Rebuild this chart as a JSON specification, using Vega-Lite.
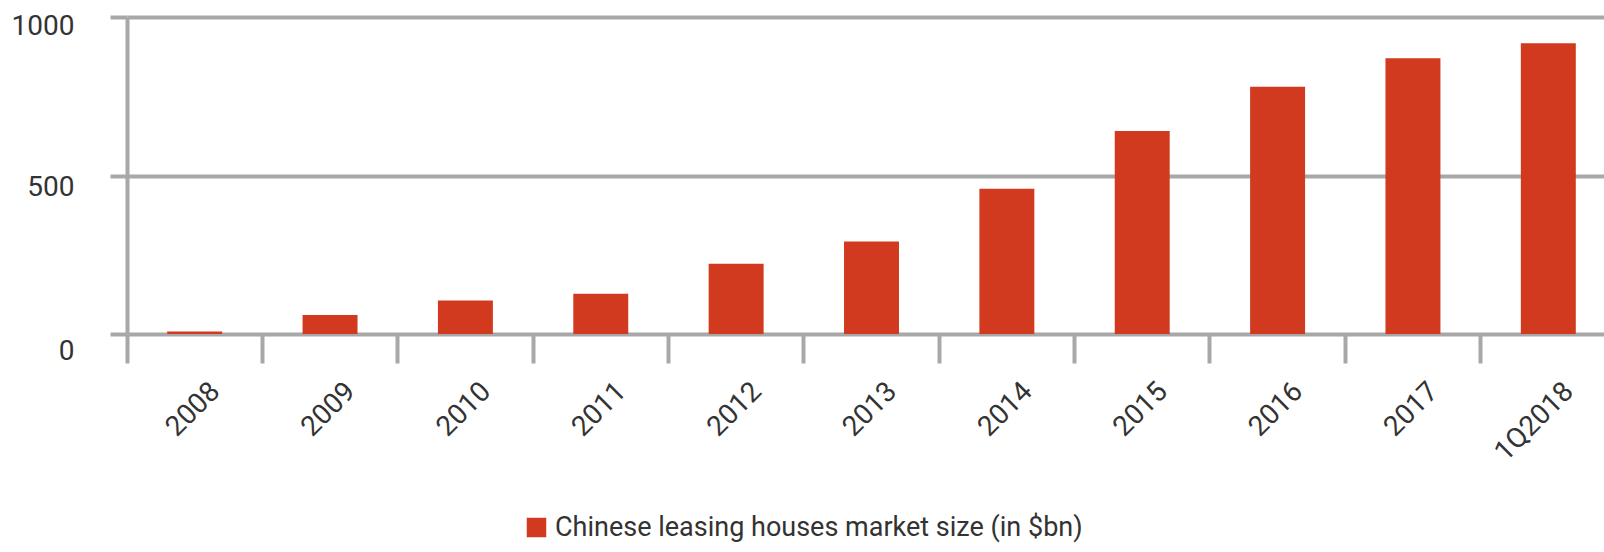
{
  "$schema": "https://vega.github.io/schema/vega-lite/v6.json",
  "width": 1477,
  "height": 317,
  "autosize": {"type": "none"},
  "padding": {"left": 127, "top": 17, "right": 0, "bottom": 218},
  "background": "#ffffff",
  "data": {
    "values": [
      {"period": "2008", "size": 8, "series": "Chinese leasing houses market size (in $bn)"},
      {"period": "2009", "size": 60, "series": "Chinese leasing houses market size (in $bn)"},
      {"period": "2010", "size": 106, "series": "Chinese leasing houses market size (in $bn)"},
      {"period": "2011", "size": 127, "series": "Chinese leasing houses market size (in $bn)"},
      {"period": "2012", "size": 222, "series": "Chinese leasing houses market size (in $bn)"},
      {"period": "2013", "size": 292, "series": "Chinese leasing houses market size (in $bn)"},
      {"period": "2014", "size": 458, "series": "Chinese leasing houses market size (in $bn)"},
      {"period": "2015", "size": 640, "series": "Chinese leasing houses market size (in $bn)"},
      {"period": "2016", "size": 780, "series": "Chinese leasing houses market size (in $bn)"},
      {"period": "2017", "size": 870, "series": "Chinese leasing houses market size (in $bn)"},
      {"period": "1Q2018", "size": 917, "series": "Chinese leasing houses market size (in $bn)"}
    ]
  },
  "mark": {"type": "bar", "width": {"band": 0.406}},
  "encoding": {
    "x": {
      "field": "period",
      "type": "ordinal",
      "sort": null,
      "scale": {"paddingInner": 0, "paddingOuter": 0, "range": [0, 1489]},
      "axis": {
        "title": null,
        "domain": false,
        "grid": false,
        "bandPosition": 0,
        "ticks": true,
        "tickSize": 29,
        "tickWidth": 4,
        "tickColor": "#a8a8a8",
        "labelAngle": -45,
        "labelAlign": "right",
        "labelBaseline": "middle",
        "labelOffset": 21,
        "labelPadding": 24,
        "labelFont": "Roboto",
        "labelFontSize": 28,
        "labelColor": "#333333",
        "labelOverlap": false
      }
    },
    "y": {
      "field": "size",
      "type": "quantitative",
      "scale": {"domain": [0, 1000], "nice": false},
      "axis": {
        "title": null,
        "values": [0, 500, 1000],
        "format": "d",
        "grid": true,
        "gridColor": "#a8a8a8",
        "gridWidth": 4,
        "gridOpacity": 1,
        "domain": true,
        "domainColor": "#a8a8a8",
        "domainWidth": 4,
        "ticks": true,
        "tickSize": 17,
        "tickWidth": 4,
        "tickColor": "#a8a8a8",
        "labelAlign": "right",
        "labelBaseline": "middle",
        "labelPadding": 36,
        "labelOffset": {
          "condition": [
            {"test": "datum.value == 0", "value": 17},
            {"test": "datum.value == 500", "value": 12}
          ],
          "value": 9
        },
        "labelFont": "Roboto",
        "labelFontSize": 28,
        "labelColor": "#333333"
      }
    },
    "color": {
      "field": "series",
      "type": "nominal",
      "scale": {"range": ["#d13a1e"]},
      "legend": {
        "title": null,
        "orient": "none",
        "legendX": 396,
        "legendY": 497,
        "padding": 0,
        "symbolType": "square",
        "symbolSize": 380,
        "symbolStrokeWidth": 0,
        "symbolOpacity": 1,
        "labelOffset": 5,
        "labelFont": "Roboto",
        "labelFontSize": 27,
        "labelColor": "#333333",
        "labelLimit": 800
      }
    }
  },
  "config": {
    "view": {"stroke": null}
  }
}
